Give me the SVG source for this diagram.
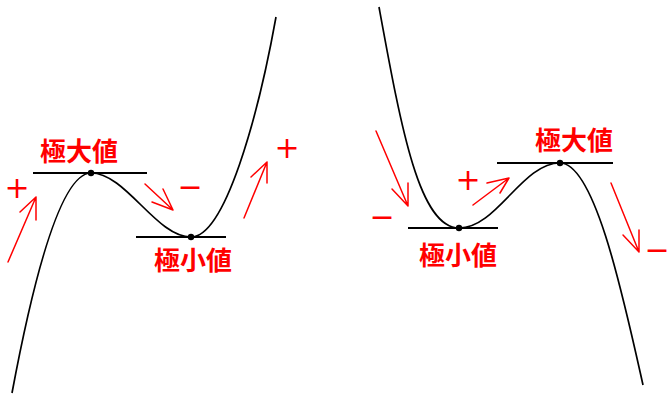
<svg xmlns="http://www.w3.org/2000/svg" width="669" height="395" viewBox="0 0 669 395">
<style>
.curve{fill:none;stroke:#000;stroke-width:1.7}
.tan{stroke:#000;stroke-width:2.2}
.dot{fill:#000}
.arr{fill:none;stroke:#ff0000;stroke-width:1.5;stroke-linecap:round;stroke-linejoin:round}
.lbl{font-family:"Noto Sans CJK JP","Noto Sans CJK SC",sans-serif;font-size:26px;font-weight:700;fill:#ff0000;text-anchor:middle}
.sign{font-family:"DejaVu Sans",sans-serif;font-size:30px;fill:#ff0000;text-anchor:middle}
</style>
<rect width="669" height="395" fill="#fff"/>
<g id="left-graph">
  <path class="curve" d="M12,393 C35,270 62,173 91,173 C126,173 156,237 191,237 C225,237 258,117 276,17"/>
  <g id="left-max">
    <line class="tan" x1="33" y1="173" x2="147" y2="173"/>
    <circle class="dot" cx="91" cy="173" r="3.2"/>
    <text class="lbl" x="79" y="161">極大値</text>
  </g>
  <g id="left-min">
    <line class="tan" x1="136" y1="237" x2="226" y2="237"/>
    <circle class="dot" cx="191" cy="237" r="3.2"/>
    <text class="lbl" x="193" y="270">極小値</text>
  </g>
</g>
<g id="right-graph">
  <path class="curve" d="M379,7 C401,127 419,228 459,228 C497,228 522,163 560,163 C595,163 623.5,298 643,385"/>
  <g id="right-min">
    <line class="tan" x1="408" y1="228" x2="498" y2="228"/>
    <circle class="dot" cx="459" cy="228" r="3.2"/>
    <text class="lbl" x="458" y="265">極小値</text>
  </g>
  <g id="right-max">
    <line class="tan" x1="497" y1="163" x2="613" y2="163"/>
    <circle class="dot" cx="560" cy="163" r="3.2"/>
    <text class="lbl" x="574" y="150">極大値</text>
  </g>
</g>
<g id="connectors">
  <path class="arr" d="M8,262 L36,197 M20,212 L36,197 L36,220"/>
  <path class="arr" d="M145,184 L173,210 M163,189 L173,210 L152,202"/>
  <path class="arr" d="M244,218 L267,162 M251,177 L267,162 L267,183"/>
  <path class="arr" d="M376,131 L408,206 M392,189 L408,206 L408,183"/>
  <path class="arr" d="M473,205 L509,178 M487,183 L509,178 L500,193"/>
  <path class="arr" d="M611,183 L639,252 M623,235 L639,252 L639,230"/>
</g>
<g id="signs">
  <text class="sign" x="17" y="198">+</text>
  <text class="sign" x="190" y="197">−</text>
  <text class="sign" x="287" y="158">+</text>
  <text class="sign" x="382" y="227">−</text>
  <text class="sign" x="468" y="190">+</text>
  <text class="sign" x="657" y="260">−</text>
</g>
</svg>
